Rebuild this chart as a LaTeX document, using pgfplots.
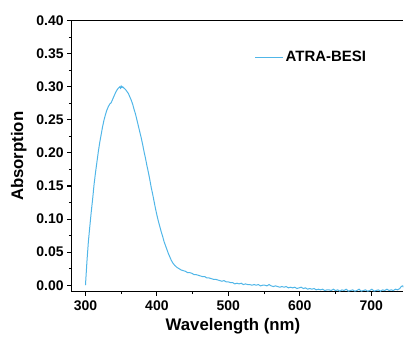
\documentclass[border=0pt]{standalone}
\usepackage{pgfplots}
\pgfplotsset{compat=1.18}
\usepackage{fontspec}
\setmainfont{Liberation Sans}
\definecolor{curve}{RGB}{80,182,232}
\begin{document}
\begin{tikzpicture}
\begin{axis}[
  at={(0pt,0pt)}, anchor=south west,
  scale only axis, width=332.7pt, height=271.6pt,
  xmin=280, xmax=745, ymin=-0.01, ymax=0.40,
  axis x line=box, axis y line=left,
  axis line style={-, line width=1.3pt, black},
  xtick={300,400,500,600,700}, minor x tick num=1,
  ytick={0,0.05,0.10,0.15,0.20,0.25,0.30,0.35,0.40}, minor y tick num=1,
  xtick pos=left, ytick pos=left,
  tick align=outside, major tick length=4pt, minor tick length=2.2pt,
  tick style={line width=1.1pt, black},
  /pgf/number format/assume math mode=true,
  ticklabel style={font=\fontsize{14}{16}\selectfont\bfseries},
  yticklabel style={/pgf/number format/fixed, /pgf/number format/fixed zerofill, /pgf/number format/precision=2},
  xticklabel style={/pgf/number format/1000 sep={}, yshift=-1pt},
  xlabel={Wavelength (nm)}, ylabel={Absorption},
  label style={font=\fontsize{16.8}{18}\selectfont\bfseries},
  xlabel style={at={(axis description cs:0.487,0)}, anchor=north, yshift=-23pt},
  ylabel style={at={(axis description cs:0,0.5)}, anchor=south, yshift=41pt},
  legend style={at={(axis description cs:0.552,0.866)}, anchor=west, draw=none, fill=none,
    font=\fontsize{15}{17}\selectfont\bfseries, inner sep=0pt},
  legend image code/.code={\draw[#1] (0pt,0pt) -- (28pt,0pt);},
  clip=true,
]
\addplot[curve, line width=1pt] coordinates {
(300,0.000)(302,0.035)(304,0.065)(306,0.088)(308,0.110)(310,0.130)(312,0.152)(314,0.170)
(316,0.186)(318,0.202)(320,0.216)(322,0.228)(324,0.240)(326,0.250)(328,0.258)(330,0.265)
(332,0.270)(334,0.274)(336,0.276)(338,0.281)(340,0.286)(342,0.291)(344,0.295)(346,0.298)
(348,0.300)(349,0.298)(350,0.301)(351,0.299)(352,0.300)(354,0.298)(356,0.296)(358,0.293)
(360,0.290)(362,0.285)(364,0.280)(366,0.274)(368,0.266)(370,0.259)(372,0.250)(374,0.241)
(376,0.232)(378,0.223)(380,0.213)(382,0.202)(384,0.192)(386,0.181)(388,0.171)(390,0.160)
(392,0.148)(394,0.138)(396,0.127)(398,0.116)(400,0.106)(402,0.097)(404,0.089)(406,0.081)
(408,0.074)(410,0.066)(412,0.060)(414,0.054)(416,0.048)(418,0.043)(420,0.038)(422,0.034)
(425,0.030)(428,0.027)(431,0.025)(434,0.023)(437,0.022)(440,0.021)(443,0.019)(446,0.019)
(449,0.018)(452,0.016)(455,0.016)(458,0.015)(461,0.014)(464,0.013)(467,0.013)(470,0.011)
(473,0.011)(476,0.010)(479,0.009)(482,0.009)(485,0.008)(488,0.007)(491,0.006)(494,0.007)
(497,0.005)(500,0.005)(503,0.004)(506,0.004)(509,0.002)(512,0.003)(515,0.002)(518,0.003)
(521,0.001)(524,0.002)(527,0.001)(530,0.001)(533,0.000)(536,0.001)(539,0.000)(542,0.001)
(545,-0.001)(548,0.000)(551,0.000)(554,-0.001)(557,0.001)(560,-0.001)(563,-0.002)(566,-0.001)
(569,-0.002)(572,-0.003)(575,-0.002)(578,-0.003)(581,-0.002)(584,-0.004)(587,-0.003)(590,-0.004)
(593,-0.003)(596,-0.005)(599,-0.004)(602,-0.003)(605,-0.005)(608,-0.004)(611,-0.006)(614,-0.005)
(617,-0.006)(620,-0.005)(623,-0.007)(626,-0.006)(629,-0.007)(632,-0.006)(635,-0.008)(638,-0.007)
(641,-0.007)(644,-0.008)(647,-0.006)(650,-0.008)(653,-0.007)(656,-0.009)(659,-0.007)(662,-0.008)
(665,-0.006)(668,-0.009)(671,-0.008)(674,-0.007)(677,-0.009)(680,-0.008)(683,-0.006)(686,-0.009)
(689,-0.008)(692,-0.007)(695,-0.009)(698,-0.008)(701,-0.006)(704,-0.009)(707,-0.008)(710,-0.007)
(713,-0.009)(716,-0.007)(719,-0.008)(722,-0.006)(725,-0.008)(728,-0.007)(731,-0.008)(734,-0.006)
(737,-0.007)(740,-0.005)(742,-0.002)(744,-0.001)(745,-0.003)
};
\addlegendentry{ATRA-BESI}
\end{axis}
\path[use as bounding box] (-71.3pt,-45.7pt) rectangle (332.7pt,292.3pt);
\end{tikzpicture}
\end{document}
